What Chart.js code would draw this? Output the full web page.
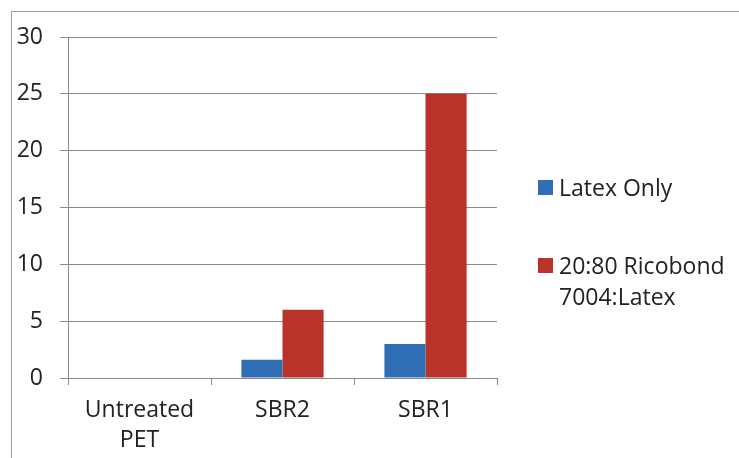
<!DOCTYPE html>
<html>
<head>
<meta charset="utf-8">
<script src="https://cdn.jsdelivr.net/npm/chart.js@4/dist/chart.umd.min.js"></script>
<style>
  body { margin: 0; background: #fff; }
  #wrap { position: relative; width: 739px; height: 458px; overflow: hidden; }
  #frame { position: absolute; left: 11px; top: 11px; width: 800px; height: 500px;
           border-left: 1px solid #999; border-top: 1px solid #999; }
  #legend { position: absolute; left: 538px; top: 172px; font-family: "Open Sans", sans-serif;
            font-size: 23px; color: #222; line-height: 31px; }
  .item { position: relative; padding-left: 21px; margin-bottom: 47px; }
  .sw { position: absolute; left: 0; top: 8px; width: 15px; height: 15px; }
  canvas { position: absolute; left: 0; top: 0; }
</style>
</head>
<body>
<div id="wrap">
  <div id="frame"></div>
  <canvas id="chart" width="739" height="458"></canvas>
  <div id="legend"></div>
</div>
<script>
const categories = [["Untreated", "PET"], "SBR2", "SBR1"];
const seriesNames = ["Latex Only", ["20:80 Ricobond", "7004:Latex"]];
const latexOnly = [0, 1.6, 3.0];
const ricobondLatex = [0, 6, 25];
const yTicks = [0, 5, 10, 15, 20, 25, 30];
const colors = ['#2f6db5', '#b9332b'];

Chart.defaults.font.family = '"Open Sans", sans-serif';
Chart.defaults.font.size = 23;
Chart.defaults.color = '#222';

new Chart(document.getElementById('chart'), {
  type: 'bar',
  data: {
    labels: categories,
    datasets: [
      { label: 'Latex Only', data: latexOnly, backgroundColor: colors[0] },
      { label: '20:80 Ricobond 7004:Latex', data: ricobondLatex, backgroundColor: colors[1] }
    ]
  },
  options: {
    responsive: false,
    animation: false,
    categoryPercentage: 0.575,
    barPercentage: 1,
    layout: { padding: { left: 0, top: 37, right: 242, bottom: 0 } },
    plugins: { legend: { display: false }, tooltip: { enabled: false } },
    scales: {
      x: {
        grid: { drawOnChartArea: false, color: '#8a8a8a', tickLength: 7, offset: true },
        border: { color: '#8a8a8a' },
        ticks: { padding: 11, maxRotation: 0, font: { lineHeight: 1.3 } },
        afterFit: a => { a.height = 80; }
      },
      y: {
        min: 0, max: 30,
        afterBuildTicks: a => { a.ticks = yTicks.map(v => ({ value: v })); },
        grid: { color: '#8a8a8a', tickLength: 8 },
        border: { color: '#8a8a8a' },
        ticks: { padding: 17 },
        afterFit: a => { a.width = 68; }
      }
    }
  }
});

const legend = document.getElementById('legend');
seriesNames.forEach((name, i) => {
  const item = document.createElement('div');
  item.className = 'item';
  const sw = document.createElement('span');
  sw.className = 'sw';
  sw.style.background = colors[i];
  item.appendChild(sw);
  const lines = Array.isArray(name) ? name : [name];
  lines.forEach(t => {
    const d = document.createElement('div');
    d.textContent = t;
    item.appendChild(d);
  });
  legend.appendChild(item);
});
</script>
</body>
</html>
